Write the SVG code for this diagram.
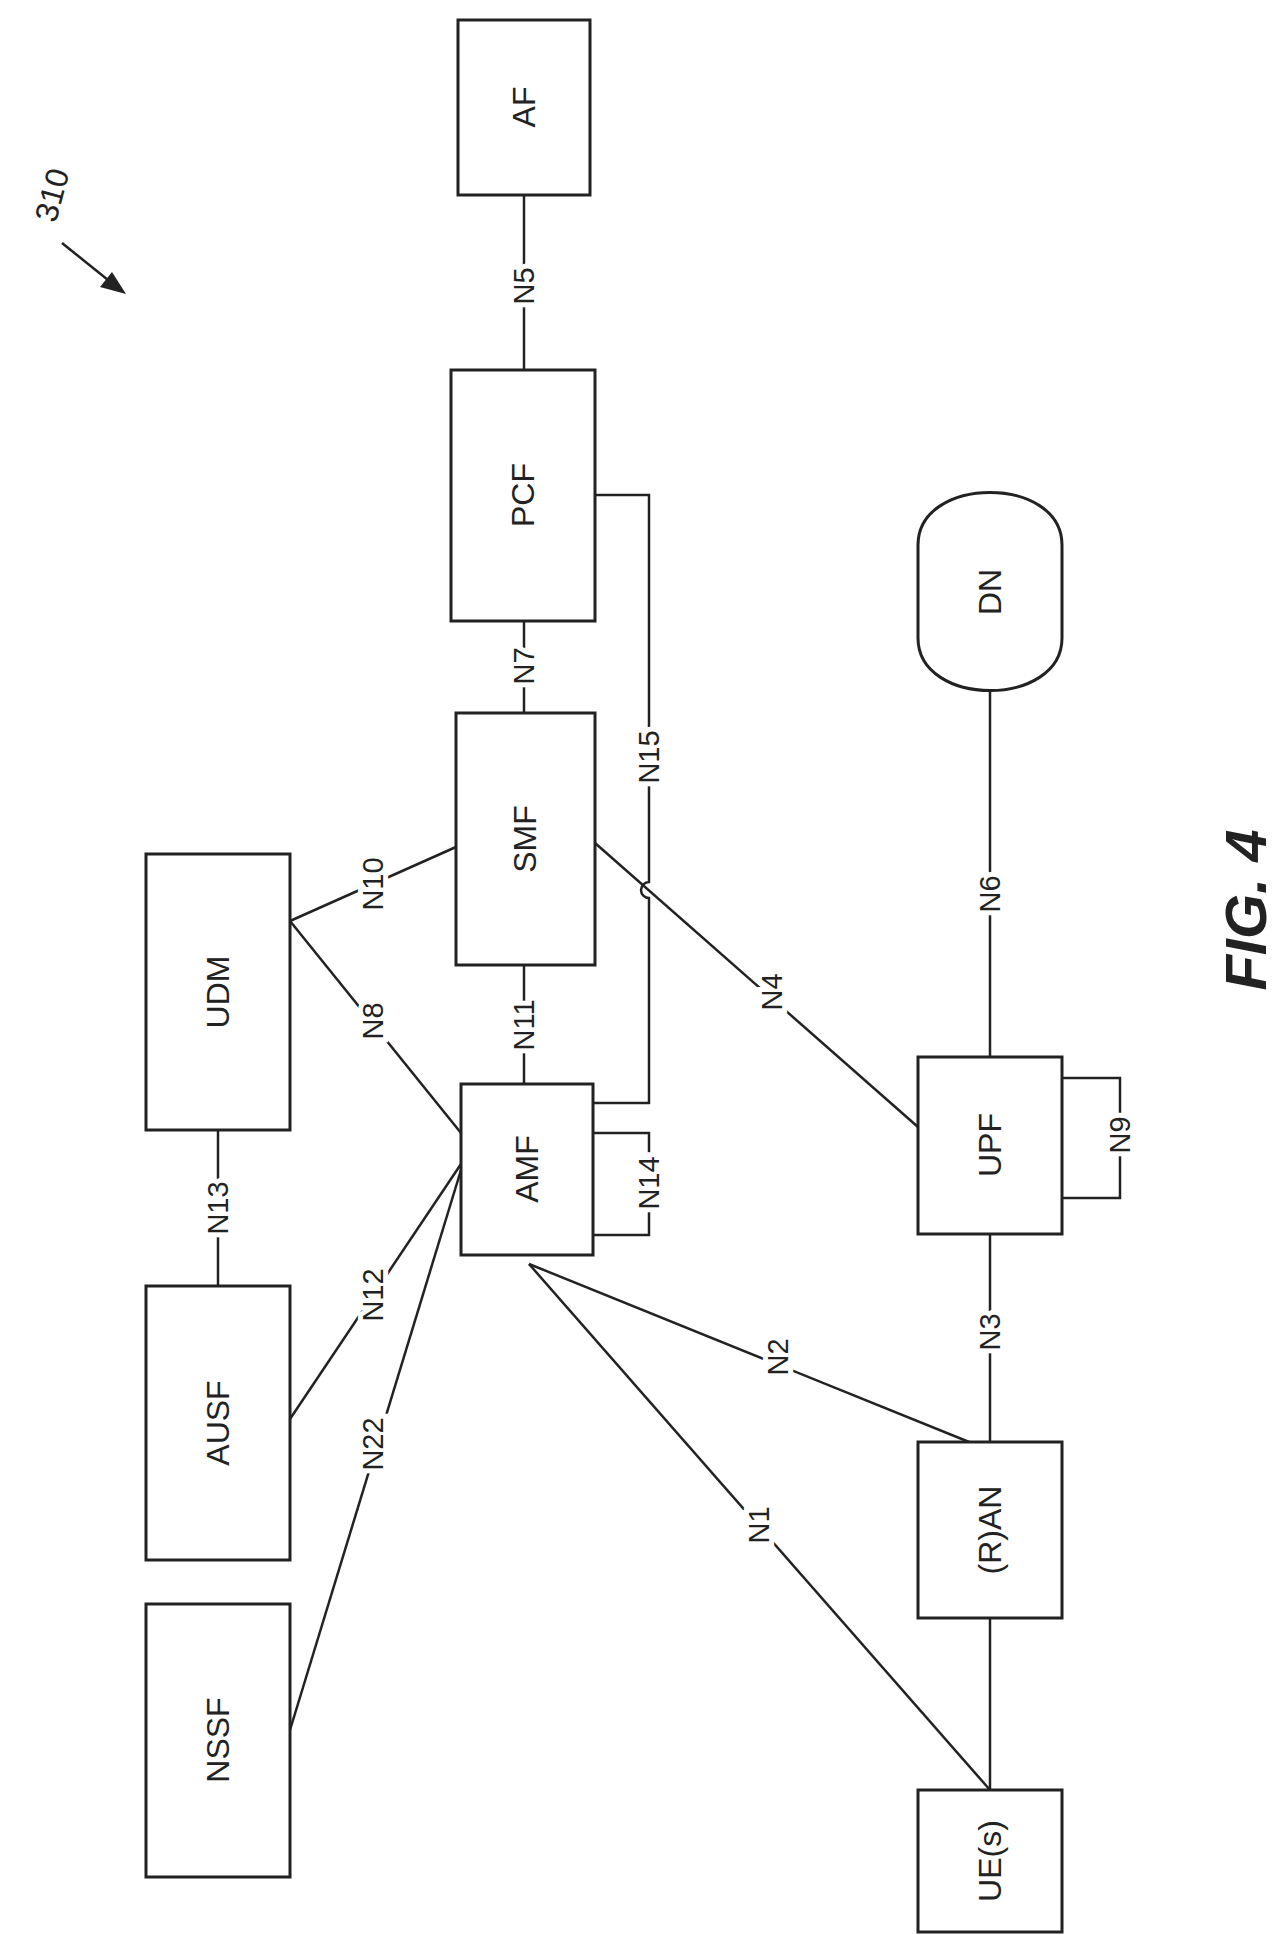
<svg xmlns="http://www.w3.org/2000/svg" width="1275" height="1935" viewBox="0 0 1275 1935">
<style>
.b{fill:#fff;stroke:#222;stroke-width:3}
.l{fill:none;stroke:#222;stroke-width:2.5}
.t{font-family:"Liberation Sans",Arial,sans-serif;font-size:32px;fill:#222;text-anchor:middle;dominant-baseline:central}
.c{font-family:"Liberation Sans",Arial,sans-serif;font-size:29px;fill:#222;text-anchor:middle;dominant-baseline:central;stroke:#fff;stroke-width:10;paint-order:stroke}
</style>
<rect width="1275" height="1935" fill="#fff"/>
<g id="connectors">
<line class="l" x1="524" y1="195" x2="524" y2="370"/>
<line class="l" x1="524" y1="621" x2="524" y2="713"/>
<line class="l" x1="524" y1="965" x2="524" y2="1084"/>
<path class="l" d="M595,495 H649 V882 a8,8 0 0 0 0,16 V1103 H593"/>
<path class="l" d="M593,1133 H649 V1235 H593"/>
<path class="l" d="M1062,1078 H1120 V1198 H1062"/>
<line class="l" x1="990" y1="688" x2="990" y2="1057"/>
<line class="l" x1="990" y1="1234" x2="990" y2="1442"/>
<line class="l" x1="990" y1="1618" x2="990" y2="1790"/>
<line class="l" x1="595" y1="843" x2="918" y2="1127"/>
<line class="l" x1="290" y1="921" x2="456" y2="847"/>
<line class="l" x1="290" y1="921" x2="461" y2="1133"/>
<line class="l" x1="218" y1="1130" x2="218" y2="1286"/>
<line class="l" x1="290" y1="1419" x2="461" y2="1164"/>
<line class="l" x1="290" y1="1730" x2="461" y2="1170"/>
<line class="l" x1="529" y1="1264" x2="984" y2="1448"/>
<line class="l" x1="529" y1="1264" x2="990" y2="1790"/>
<line class="l" x1="62" y1="243" x2="118" y2="288"/>
<path d="M126,294 L100,287 L112,272 Z" fill="#222"/>
<text class="c" transform="translate(524,286) rotate(-90)">N5</text>
<text class="c" transform="translate(524,666) rotate(-90)">N7</text>
<text class="c" transform="translate(524,1025) rotate(-90)">N11</text>
<text class="c" transform="translate(649,757) rotate(-90)">N15</text>
<text class="c" transform="translate(649,1183) rotate(-90)">N14</text>
<text class="c" transform="translate(1120,1135) rotate(-90)">N9</text>
<text class="c" transform="translate(990,894) rotate(-90)">N6</text>
<text class="c" transform="translate(990,1332) rotate(-90)">N3</text>
<text class="c" transform="translate(772,992) rotate(-90)">N4</text>
<text class="c" transform="translate(373,884) rotate(-90)">N10</text>
<text class="c" transform="translate(373,1021) rotate(-90)">N8</text>
<text class="c" transform="translate(218,1208) rotate(-90)">N13</text>
<text class="c" transform="translate(373,1295) rotate(-90)">N12</text>
<text class="c" transform="translate(373,1444) rotate(-90)">N22</text>
<text class="c" transform="translate(778,1357) rotate(-90)">N2</text>
<text class="c" transform="translate(759,1525) rotate(-90)">N1</text>
</g>
<g id="AF"><rect class="b" x="458" y="20" width="132" height="175"/><text class="t" transform="translate(524,107) rotate(-90)">AF</text></g>
<g id="PCF"><rect class="b" x="451" y="370" width="144" height="251"/><text class="t" transform="translate(523,495) rotate(-90)">PCF</text></g>
<g id="SMF"><rect class="b" x="456" y="713" width="139" height="252"/><text class="t" transform="translate(525,839) rotate(-90)">SMF</text></g>
<g id="UDM"><rect class="b" x="146" y="854" width="144" height="276"/><text class="t" transform="translate(218,992) rotate(-90)">UDM</text></g>
<g id="AMF"><rect class="b" x="461" y="1084" width="132" height="171"/><text class="t" transform="translate(527,1169) rotate(-90)">AMF</text></g>
<g id="AUSF"><rect class="b" x="146" y="1286" width="144" height="274"/><text class="t" transform="translate(218,1423) rotate(-90)">AUSF</text></g>
<g id="NSSF"><rect class="b" x="146" y="1604" width="144" height="273"/><text class="t" transform="translate(218,1740) rotate(-90)">NSSF</text></g>
<g id="UPF"><rect class="b" x="918" y="1057" width="144" height="177"/><text class="t" transform="translate(990,1145) rotate(-90)">UPF</text></g>
<g id="RAN"><rect class="b" x="918" y="1442" width="144" height="176"/><text class="t" transform="translate(990,1530) rotate(-90)">(R)AN</text></g>
<g id="UE"><rect class="b" x="918" y="1790" width="144" height="142"/><text class="t" transform="translate(990,1861) rotate(-90)">UE(s)</text></g>
<g id="DN"><path class="b" d="M918,545 C918,475 1062,475 1062,545 V638 C1062,708 918,708 918,638 Z"/><text class="t" transform="translate(990,592) rotate(-90)">DN</text></g>
<text class="t" transform="translate(52,195) rotate(-75)">310</text>
<text transform="translate(1245,910) rotate(-90)" font-family="Liberation Sans,Arial,sans-serif" font-size="58" font-weight="bold" font-style="italic" text-anchor="middle" dominant-baseline="central" fill="#222">FIG. 4</text>
</svg>
